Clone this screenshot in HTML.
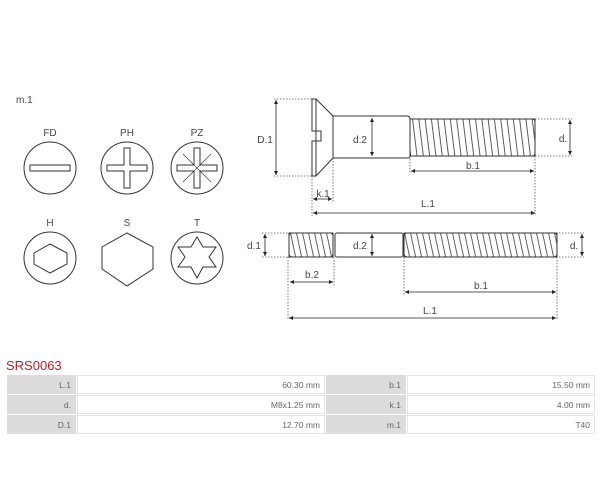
<!DOCTYPE html>
<html><head><meta charset="utf-8"><style>
html,body{margin:0;padding:0;background:#fff;}
body{width:600px;height:484px;position:relative;overflow:hidden;font-family:"Liberation Sans",sans-serif;}
svg{position:absolute;left:0;top:0;}
.t{font-family:"Liberation Sans",sans-serif;font-size:10px;fill:#444;}
#hdr{position:absolute;left:6px;top:358px;color:#b3222a;font-size:13px;}
table{position:absolute;left:6px;top:374px;border-collapse:separate;border-spacing:1px;width:590px;font-size:8.5px;color:#666;}
td{height:17px;padding:0 4px;text-align:right;background:#fff;border:1px solid #e4e4e4;}
td.l{background:#dcdcdc;border-color:#dcdcdc;}
</style></head><body>
<svg width="600" height="484" viewBox="0 0 600 484">
<defs>
<pattern id="th1" width="6.3" height="60" patternUnits="userSpaceOnUse" patternTransform="skewX(7)"><line x1="1" y1="0" x2="1" y2="60" stroke="#333" stroke-width="0.8"/></pattern>
<pattern id="th2" width="6" height="60" patternUnits="userSpaceOnUse" patternTransform="skewX(12)"><line x1="1" y1="0" x2="1" y2="60" stroke="#333" stroke-width="0.8"/></pattern>
<marker id="a" viewBox="0 0 6 6" refX="6" refY="3" markerWidth="5" markerHeight="5" orient="auto-start-reverse"><path d="M0,0L6,3L0,6z" fill="#222"/></marker>
</defs>
<text class="t" x="16" y="103">m.1</text>
<g fill="none" stroke="#333" stroke-width="1">
<circle cx="50" cy="168" r="26"/><circle cx="127" cy="168" r="26"/><circle cx="197" cy="168" r="26"/>
<rect x="30" y="165" width="40" height="6"/>
<path d="M124,148h6v17h17v6h-17v17h-6v-17h-17v-6h17z"/>
<path d="M194,148h6v17h17v6h-17v17h-6v-17h-17v-6h17z"/>
<g stroke-width="0.6"><line x1="183" y1="154" x2="211" y2="182"/><line x1="211" y1="154" x2="183" y2="182"/></g>
<circle cx="50" cy="258" r="26"/><circle cx="197" cy="258" r="26"/>
<polygon points="50,243 67,252 67,263 50,272 34,263 34,252" transform="translate(0,1)"/>
<polygon points="127,232 153,246 153,268 127,285 102,268 102,246" transform="translate(0,1)"/>
<polygon points="197,232 203,242 216,242 209,252 216,262 203,262 197,273 191,262 178,262 185,252 178,242 191,242" transform="translate(0,5)"/>
</g>
<g class="t" text-anchor="middle"><text x="50" y="136">FD</text><text x="127" y="136">PH</text><text x="197" y="136">PZ</text><text x="50" y="226">H</text><text x="127" y="226">S</text><text x="197" y="226">T</text></g>

<!-- top screw -->
<g fill="none" stroke="#333" stroke-width="1">
<path d="M312,99V131h9v10h-9V176h4V99z"/>
<path d="M316,99L333,116V158L316,176"/>
<path d="M333,116H408Q410,117 410,119V156Q410,158 408,158H333"/>
<rect x="410" y="119" width="125" height="37" fill="url(#th1)"/>
<path d="M410,119H532Q535,119 535,122V153Q535,156 532,156H410"/>
</g>
<g fill="none" stroke="#555" stroke-width="0.8" stroke-dasharray="1.5,1.5">
<path d="M274,99H312M274,176H312M535,119H572M535,156H572M312,176V216M333,158V202M410,156V173M535,156V216"/>
<path d="M262,233H290M262,257H290M556,233H584M556,257H584M288,257V320M334,257V285M404,257V295M557,257V320"/>
</g>
<g stroke="#222" stroke-width="0.8" marker-start="url(#a)" marker-end="url(#a)">
<line x1="276" y1="100" x2="276" y2="175"/>
<line x1="372" y1="118" x2="372" y2="156"/>
<line x1="570" y1="120" x2="570" y2="155"/>
<line x1="313" y1="199" x2="332" y2="199"/>
<line x1="313" y1="213" x2="535" y2="213"/>
<line x1="411" y1="171" x2="534" y2="171"/>
<line x1="265" y1="234" x2="265" y2="256"/>
<line x1="372" y1="234" x2="372" y2="256"/>
<line x1="582" y1="234" x2="582" y2="256"/>
<line x1="290" y1="282" x2="333" y2="282"/>
<line x1="405" y1="292" x2="556" y2="292"/>
<line x1="289" y1="318" x2="556" y2="318"/>
</g>
<g class="t" text-anchor="middle" font-size="10">
<text x="265" y="143">D.1</text><text x="360" y="143">d.2</text><text x="563" y="142">d.</text>
<text x="323" y="197">k.1</text><text x="428" y="207">L.1</text><text x="473" y="169">b.1</text>
<text x="254" y="249">d.1</text><text x="360" y="249">d.2</text><text x="574" y="249">d.</text>
<text x="312" y="278">b.2</text><text x="481" y="289">b.1</text><text x="430" y="314">L.1</text>
</g>
<!-- bottom screw -->
<g fill="none" stroke="#333" stroke-width="1">
<rect x="289" y="233" width="44" height="24" fill="url(#th2)"/>
<rect x="289" y="233" width="44" height="24" rx="3"/>
<rect x="335" y="233" width="68" height="24" rx="2"/>
<rect x="404" y="233" width="153" height="24" fill="url(#th2)"/>
<rect x="404" y="233" width="153" height="24" rx="3"/>
</g>
</svg>
<div id="hdr">SRS0063</div>
<table>
<tr><td class="l" style="width:59px">L.1</td><td style="width:238px">60.30 mm</td><td class="l" style="width:70px">b.1</td><td>15.50 mm</td></tr>
<tr><td class="l">d.</td><td>M8x1.25 mm</td><td class="l">k.1</td><td>4.00 mm</td></tr>
<tr><td class="l">D.1</td><td>12.70 mm</td><td class="l">m.1</td><td>T40</td></tr>
</table>
</body></html>
